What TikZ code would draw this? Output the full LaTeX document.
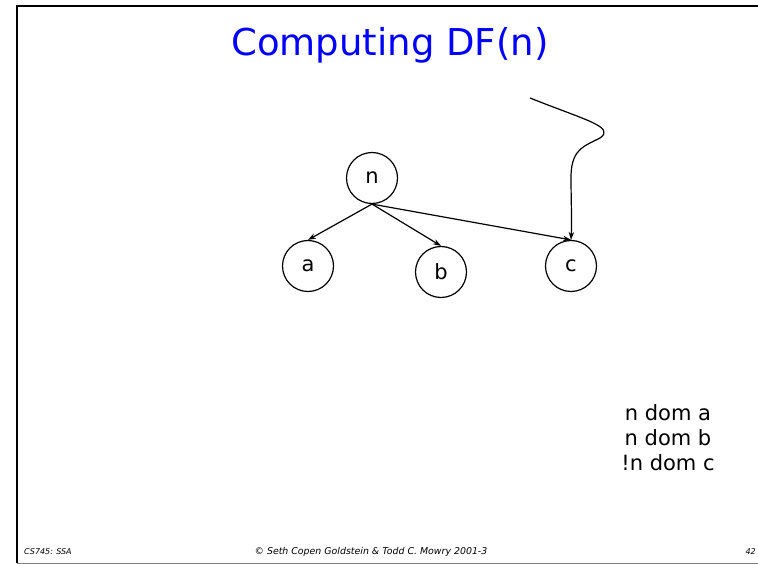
\documentclass[tikz,border=0pt]{standalone}
\usepackage{fontspec}
\setmainfont{DejaVu Sans}
\usetikzlibrary{arrows.meta}
\definecolor{titleblue}{RGB}{0,0,255}
\begin{document}
\begin{tikzpicture}[x=1pt,y=-1pt,
  vertex/.style={circle,draw,line width=1.2pt,minimum size=51pt,inner sep=0pt,font=\fontsize{21}{24}\selectfont},
  edge/.style={line width=1.2pt,-{Stealth[length=8pt,width=5.5pt]}},
  foot/.style={font=\fontsize{8}{9}\selectfont\itshape,inner sep=0pt}]
  \useasboundingbox (0,0) rectangle (758,564);
  % slide frame
  \draw[line width=2pt] (17,563) -- (17,6) -- (758,6);
  \draw[gray,line width=1pt] (17,563) -- (758,563);
  % title
  \node[text=titleblue,font=\fontsize{37}{40}\selectfont] (title) at (390,45) {Computing DF(n)};
  % dominator tree
  \node[vertex] (n) at (372,178) {n};
  \node[vertex] (a) at (308,266) {a};
  \node[vertex] (b) at (441,272) {b};
  \node[vertex] (c) at (571,266) {c};
  \draw[edge] (n.south) -- (a.north);
  \draw[edge] (n.south) -- (b.north);
  \draw[edge] (n.south) -- (c.north);
  % incoming edge from elsewhere in the CFG
  \coordinate (src) at (530,98);
  \draw[edge] (src) .. controls (585,120) and (616,127) .. (600,138)
     .. controls (585,146) and (572,148) .. (571,175)
     .. controls (571,200) and (572,220) .. (c.north);
  % dominance facts
  \node[font=\fontsize{21}{25}\selectfont,align=center] (facts) at (668,438) {n dom a\\n dom b\\!n dom c};
  % footer
  \node[foot,anchor=west] (course) at (24,552) {CS745: SSA};
  \node[foot,font=\fontsize{9.4}{10}\selectfont\itshape] (copy) at (371,552) {© Seth Copen Goldstein \& Todd C. Mowry 2001-3};
  \node[foot,anchor=east] (page) at (756,552) {42};
\end{tikzpicture}
\end{document}
